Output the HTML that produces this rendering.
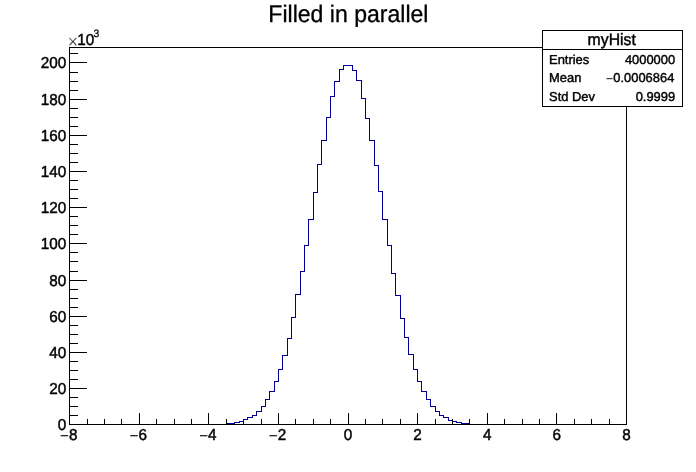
<!DOCTYPE html>
<html lang="en"><head><meta charset="utf-8"><title>Filled in parallel</title>
<style>
html,body{margin:0;padding:0;background:#fff;width:696px;height:472px;overflow:hidden}
svg{display:block;font-family:"Liberation Sans",sans-serif;fill:#000}
.ax{stroke:#000;stroke-width:1;fill:none;shape-rendering:crispEdges}
.h{stroke:#000099;stroke-width:1;fill:none;shape-rendering:crispEdges}
.tx{filter:grayscale(1)}
.tx text{stroke:#000;text-rendering:geometricPrecision}
</style></head><body>
<svg width="696" height="472" viewBox="0 0 696 472">
<rect width="696" height="472" fill="#fff"/>
<path class="h" d="M69.5 424.5 L69.5 424.5 L73.5 424.5 L78.5 424.5 L82.5 424.5 L87.5 424.5 L91.5 424.5 L95.5 424.5 L100.5 424.5 L104.5 424.5 L108.5 424.5 L113.5 424.5 L117.5 424.5 L121.5 424.5 L126.5 424.5 L130.5 424.5 L134.5 424.5 L139.5 424.5 L143.5 424.5 L147.5 424.5 L152.5 424.5 L156.5 424.5 L160.5 424.5 L165.5 424.5 L169.5 424.5 L174.5 424.5 L178.5 424.5 L182.5 424.5 L187.5 424.5 L191.5 424.5 L195.5 424.5 L200.5 424.5 L204.5 424.5 L208.5 424.5 L213.5 424.5 L217.5 424.5 L221.5 424.5 L226.5 424.5 L226.5 423.5 L230.5 423.5 L234.5 423.5 L234.5 422.5 L239.5 422.5 L239.5 421.5 L243.5 421.5 L243.5 419.5 L247.5 419.5 L247.5 417.5 L252.5 417.5 L252.5 415.5 L256.5 415.5 L256.5 411.5 L261.5 411.5 L261.5 406.5 L265.5 406.5 L265.5 399.5 L269.5 399.5 L269.5 391.5 L274.5 391.5 L274.5 381.5 L278.5 381.5 L278.5 369.5 L282.5 369.5 L282.5 355.5 L287.5 355.5 L287.5 338.5 L291.5 338.5 L291.5 317.5 L295.5 317.5 L295.5 294.5 L300.5 294.5 L300.5 271.5 L304.5 271.5 L304.5 245.5 L308.5 245.5 L308.5 219.5 L313.5 219.5 L313.5 192.5 L317.5 192.5 L317.5 164.5 L321.5 164.5 L321.5 140.5 L326.5 140.5 L326.5 117.5 L330.5 117.5 L330.5 96.5 L334.5 96.5 L334.5 81.5 L339.5 81.5 L339.5 69.5 L343.5 69.5 L343.5 65.5 L348.5 65.5 L352.5 65.5 L352.5 70.5 L356.5 70.5 L356.5 80.5 L361.5 80.5 L361.5 98.5 L365.5 98.5 L365.5 118.5 L369.5 118.5 L369.5 140.5 L374.5 140.5 L374.5 165.5 L378.5 165.5 L378.5 191.5 L382.5 191.5 L382.5 219.5 L387.5 219.5 L387.5 245.5 L391.5 245.5 L391.5 273.5 L395.5 273.5 L395.5 295.5 L400.5 295.5 L400.5 318.5 L404.5 318.5 L404.5 337.5 L408.5 337.5 L408.5 354.5 L413.5 354.5 L413.5 369.5 L417.5 369.5 L417.5 381.5 L421.5 381.5 L421.5 391.5 L426.5 391.5 L426.5 399.5 L430.5 399.5 L430.5 406.5 L435.5 406.5 L435.5 411.5 L439.5 411.5 L439.5 415.5 L443.5 415.5 L443.5 417.5 L448.5 417.5 L448.5 420.5 L452.5 420.5 L452.5 421.5 L456.5 421.5 L456.5 422.5 L461.5 422.5 L461.5 423.5 L465.5 423.5 L469.5 423.5 L469.5 424.5 L474.5 424.5 L478.5 424.5 L482.5 424.5 L487.5 424.5 L491.5 424.5 L495.5 424.5 L500.5 424.5 L504.5 424.5 L508.5 424.5 L513.5 424.5 L517.5 424.5 L522.5 424.5 L526.5 424.5 L530.5 424.5 L535.5 424.5 L539.5 424.5 L543.5 424.5 L548.5 424.5 L552.5 424.5 L556.5 424.5 L561.5 424.5 L565.5 424.5 L569.5 424.5 L574.5 424.5 L578.5 424.5 L582.5 424.5 L587.5 424.5 L591.5 424.5 L595.5 424.5 L600.5 424.5 L604.5 424.5 L609.5 424.5 L613.5 424.5 L617.5 424.5 L622.5 424.5 L626.5 424.5 L626.5 424.5"/>
<rect class="ax" x="69.5" y="47.5" width="557" height="377"/>
<path class="ax" d="M69.5 425 V413M87.5 425 V419M104.5 425 V419M121.5 425 V419M139.5 425 V413M156.5 425 V419M174.5 425 V419M191.5 425 V419M208.5 425 V413M226.5 425 V419M243.5 425 V419M261.5 425 V419M278.5 425 V413M295.5 425 V419M313.5 425 V419M330.5 425 V419M348.5 425 V413M365.5 425 V419M382.5 425 V419M400.5 425 V419M417.5 425 V413M435.5 425 V419M452.5 425 V419M469.5 425 V419M487.5 425 V413M504.5 425 V419M522.5 425 V419M539.5 425 V419M556.5 425 V413M574.5 425 V419M591.5 425 V419M609.5 425 V419M626.5 425 V413"/>
<path class="ax" d="M69 424.5 H87M69 415.5 H78M69 406.5 H78M69 397.5 H78M69 388.5 H87M69 379.5 H78M69 370.5 H78M69 361.5 H78M69 352.5 H87M69 343.5 H78M69 334.5 H78M69 325.5 H78M69 316.5 H87M69 307.5 H78M69 298.5 H78M69 289.5 H78M69 280.5 H87M69 271.5 H78M69 261.5 H78M69 252.5 H78M69 243.5 H87M69 234.5 H78M69 225.5 H78M69 216.5 H78M69 207.5 H87M69 198.5 H78M69 189.5 H78M69 180.5 H78M69 171.5 H87M69 162.5 H78M69 153.5 H78M69 144.5 H78M69 135.5 H87M69 126.5 H78M69 117.5 H78M69 108.5 H78M69 99.5 H87M69 90.5 H78M69 81.5 H78M69 72.5 H78M69 62.5 H87M69 53.5 H78"/>
<g class="tx" stroke-width="0.45">
<text transform="translate(68.7 440) scale(1 1.04)" font-size="15.3px" text-anchor="middle"><tspan dy="1.35" style="stroke:none">−</tspan><tspan dy="-1.35">8</tspan></text>
<text transform="translate(138.3 440) scale(1 1.04)" font-size="15.3px" text-anchor="middle"><tspan dy="1.35" style="stroke:none">−</tspan><tspan dy="-1.35">6</tspan></text>
<text transform="translate(207.9 440) scale(1 1.04)" font-size="15.3px" text-anchor="middle"><tspan dy="1.35" style="stroke:none">−</tspan><tspan dy="-1.35">4</tspan></text>
<text transform="translate(277.5 440) scale(1 1.04)" font-size="15.3px" text-anchor="middle"><tspan dy="1.35" style="stroke:none">−</tspan><tspan dy="-1.35">2</tspan></text>
<text transform="translate(348 440) scale(1 1.04)" font-size="15.3px" text-anchor="middle">0</text>
<text transform="translate(417.6 440) scale(1 1.04)" font-size="15.3px" text-anchor="middle">2</text>
<text transform="translate(487.2 440) scale(1 1.04)" font-size="15.3px" text-anchor="middle">4</text>
<text transform="translate(556.8 440) scale(1 1.04)" font-size="15.3px" text-anchor="middle">6</text>
<text transform="translate(626.4 440) scale(1 1.04)" font-size="15.3px" text-anchor="middle">8</text>
<text transform="translate(66.3 430) scale(1 1.04)" font-size="15.3px" text-anchor="end">0</text>
<text transform="translate(66.3 394) scale(1 1.04)" font-size="15.3px" text-anchor="end">20</text>
<text transform="translate(66.3 358) scale(1 1.04)" font-size="15.3px" text-anchor="end">40</text>
<text transform="translate(66.3 322) scale(1 1.04)" font-size="15.3px" text-anchor="end">60</text>
<text transform="translate(66.3 286) scale(1 1.04)" font-size="15.3px" text-anchor="end">80</text>
<text transform="translate(66.3 249) scale(1 1.04)" font-size="15.3px" text-anchor="end">100</text>
<text transform="translate(66.3 213) scale(1 1.04)" font-size="15.3px" text-anchor="end">120</text>
<text transform="translate(66.3 177) scale(1 1.04)" font-size="15.3px" text-anchor="end">140</text>
<text transform="translate(66.3 141) scale(1 1.04)" font-size="15.3px" text-anchor="end">160</text>
<text transform="translate(66.3 105) scale(1 1.04)" font-size="15.3px" text-anchor="end">180</text>
<text transform="translate(66.3 68) scale(1 1.04)" font-size="15.3px" text-anchor="end">200</text>
<text transform="translate(67.6 47.5) scale(1 1.04)" font-size="18.5px" style="stroke:#fff;stroke-width:0.45px">×</text>
<text transform="translate(77.2 45) scale(1 1.04)" font-size="15.3px">10</text>
<text transform="translate(93.6 37.3) scale(1 1.04)" font-size="10.3px" stroke-width="0.25">3</text>
<text transform="translate(348.4 21.7) scale(1 1.04)" font-size="23.05px" text-anchor="middle" stroke-width="0.3">Filled in parallel</text>
</g>
<rect class="ax" x="542.5" y="30.5" width="140" height="76" style="fill:#fff"/>
<path class="ax" d="M542 49.5H683"/>
<g class="tx" stroke-width="0.45">
<text transform="translate(611.7 44.7) scale(1 1.04)" font-size="15.8px" text-anchor="middle">myHist</text>
<text transform="translate(549 63.7)" font-size="12.95px" stroke-width="0.42">Entries</text>
<text transform="translate(675.1 63.7)" font-size="12.9px" text-anchor="end" stroke-width="0.42">4000000</text>
<text transform="translate(549 82.1)" font-size="12.95px" stroke-width="0.42">Mean</text>
<text transform="translate(674.3 82.1)" font-size="12.9px" text-anchor="end" stroke-width="0.42"><tspan dy="1" style="stroke:none">−</tspan><tspan dy="-1">0.0006864</tspan></text>
<text transform="translate(549 100.6)" font-size="12.95px" stroke-width="0.42">Std Dev</text>
<text transform="translate(675.1 100.6)" font-size="12.9px" text-anchor="end" stroke-width="0.42">0.9999</text>
</g>
</svg></body></html>
